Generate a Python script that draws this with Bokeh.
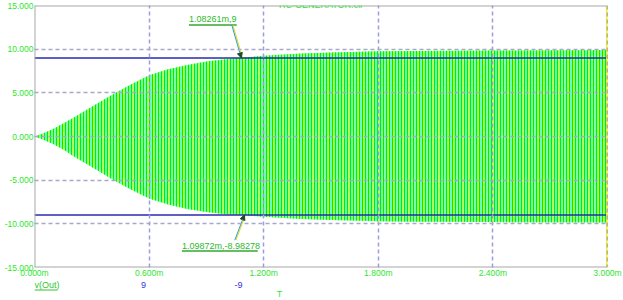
import numpy as np
from bokeh.plotting import figure
from bokeh.layouts import column
from bokeh.models import Span, Label, Arrow, NormalHead, FixedTicker, ColumnDataSource, Range1d
from bokeh.core.properties import value
from bokeh.embed import file_html
from bokeh.resources import INLINE

# ---- data ----
title_text = "RC-GENERATOR.cir"
t_ms = [0, 0.05, 0.1, 0.15, 0.2, 0.3, 0.4, 0.5, 0.6, 0.7, 0.8, 0.9, 1.0, 1.1, 1.2, 1.4, 1.6, 1.8, 2.0, 2.4, 3.0]
v_upper = [0, 0.4, 0.9, 1.5, 2.1, 3.4, 4.7, 5.9, 7.0, 7.7, 8.2, 8.6, 8.85, 9.05, 9.25, 9.5, 9.65, 9.75, 9.8, 9.85, 9.9]
v_lower = [0, -0.4, -0.9, -1.5, -2.2, -3.5, -4.8, -6.0, -7.1, -7.8, -8.3, -8.65, -8.9, -9.0, -9.2, -9.45, -9.6, -9.7, -9.75, -9.8, -9.85]
level_hi = 9
level_lo = -9
marker_t = [1.08261, 1.09872]
marker_v = [9, -8.98278]
x_ticks = [0, 0.6, 1.2, 1.8, 2.4, 3.0]
x_tick_labels = ["0.000m", "0.600m", "1.200m", "1.800m", "2.400m", "3.000m"]
y_ticks = [-15, -10, -5, 0, 5, 10, 15]
legend_items = ["v(Out)", "9", "-9"]
x_axis_name = "T"

FONT = "Liberation Sans"
TICK_COLOR = "#2EE62E"
LEFT, RIGHT = 34, 16

p = figure(width=623, height=280, x_range=Range1d(0, 3), y_range=Range1d(-15, 15),
           output_backend="svg", toolbar_location=None,
           min_border_left=LEFT, min_border_right=RIGHT, min_border_top=5, min_border_bottom=12)
p.background_fill_color = "white"
p.border_fill_color = "white"
p.outline_line_color = None

# axes
p.xaxis.ticker = FixedTicker(ticks=x_ticks)
p.xaxis.major_label_overrides = {t: l for t, l in zip(x_ticks, x_tick_labels)}
p.yaxis.ticker = FixedTicker(ticks=y_ticks)
p.yaxis.major_label_overrides = {t: f"{t:.3f}" for t in y_ticks}
for ax in (p.xaxis, p.yaxis):
    ax.axis_line_color = None
    ax.major_tick_line_color = None
    ax.minor_tick_line_color = None
    ax.major_tick_out = 0
    ax.major_tick_in = 0
    ax.minor_tick_out = 0
    ax.axis_label_standoff = 0
    ax.major_label_text_color = TICK_COLOR
    ax.major_label_text_font = FONT
    ax.major_label_text_font_size = "8.5px"
p.yaxis.major_label_standoff = 1
p.xaxis.major_label_standoff = 0

# grid
p.xgrid.grid_line_color = "#9C9CE0"
p.ygrid.grid_line_color = "#A8A8C8"
p.grid.grid_line_dash = "4 3"
p.grid.grid_line_width = 1.5
p.grid.level = "overlay"

# signal (dense oscillation drawn as its envelope with vertical stripes)
src = ColumnDataSource(dict(t=t_ms, up=v_upper, lo=v_lower))
p.varea(x="t", y1="lo", y2="up", source=src, fill_color="#66FFCC",
        hatch_pattern="vertical_line", hatch_color="#D2FF26", hatch_scale=5, hatch_weight=1.8)
p.varea(x="t", y1="lo", y2="up", source=src, fill_alpha=0,
        hatch_pattern="vertical_line", hatch_color="#00EE00", hatch_scale=3, hatch_weight=1.0)

# level lines 9 and -9
for lv in (level_hi, level_lo):
    p.add_layout(Span(location=lv, dimension="width", line_color="#2828B0", line_width=1.5))

# frame borders
p.add_layout(Span(location=0, dimension="height", line_color="#A8A8A8", line_width=2))
p.add_layout(Span(location=15, dimension="width", line_color="#A8A8A8", line_width=2))
p.add_layout(Span(location=-15, dimension="width", line_color="#A8A8A8", line_width=2))
p.add_layout(Span(location=3.0, dimension="height", line_color="#F0F020", line_width=3))
p.add_layout(Span(location=3.0, dimension="height", line_color="#7070D8", line_width=1.5, line_dash="4 3"))

# marker annotations
txt_dx = [-0.274, -0.327]
txt_w = [0.25, 0.397]
txt_dy = [4.46, -3.57]
line_dy = [3.78, -4.14]
arrow_dx = [-0.05, -0.05]
arrow_dy = [3.78, -2.88]
for i in range(2):
    tx = marker_t[i] + txt_dx[i]
    label = f"{marker_t[i]:g}m,{marker_v[i]:g}"
    p.add_layout(Label(x=tx, y=marker_v[i] + txt_dy[i], text=label, text_font=FONT,
                       text_font_size="9px", text_color="#2DB82D", text_baseline="middle"))
    p.segment(x0=[tx], y0=[marker_v[i] + line_dy[i]], x1=[tx + txt_w[i]], y1=[marker_v[i] + line_dy[i]],
              line_color="#30A830", line_width=1.5)
    xs, ys = marker_t[i] + arrow_dx[i], marker_v[i] + arrow_dy[i]
    p.segment(x0=[xs + 0.006], y0=[ys], x1=[marker_t[i] + 0.006], y1=[marker_v[i]],
              line_color="#E0E000", line_width=1)
    p.add_layout(Arrow(end=NormalHead(size=5, fill_color="#1E4A1E", line_color="#1E4A1E"),
                       x_start=xs, y_start=ys, x_end=marker_t[i], y_end=marker_v[i],
                       line_color="#3399DD", line_width=1))

# title (partly cut off at the top)
p.add_layout(Label(x=1.5, y=15.11, text=title_text, text_font=FONT, text_font_size="9px",
                   text_color=TICK_COLOR, text_align="center", text_baseline="alphabetic"))

# ---- bottom legend strip, sharing the time axis ----
q = figure(width=623, height=20, x_range=p.x_range, y_range=Range1d(20, 0),
           output_backend="svg", toolbar_location=None,
           min_border_left=LEFT, min_border_right=RIGHT, min_border_top=0, min_border_bottom=0)
q.axis.visible = False
q.grid.visible = False
q.outline_line_color = None
q.background_fill_color = "white"
q.border_fill_color = "white"

leg_x = [0.0, 0.571, 1.068]
leg_row = [4.5, 4.5, 4.5]
leg_col = ["#2EC82E", "#3333DD", "#3333DD"]
leg_align = ["left", "center", "center"]
q.text(x=leg_x, y=leg_row, text=legend_items, text_color=leg_col, text_align=leg_align,
       text_baseline="middle", text_font=value(FONT), text_font_size="9px")
q.segment(x0=[leg_x[0]], y0=[9.5], x1=[leg_x[0] + 0.12], y1=[9.5], line_color="#2EC82E", line_width=1)
q.text(x=[1.283], y=[13.5], text=[x_axis_name], text_color=TICK_COLOR, text_align="center",
       text_baseline="middle", text_font=value(FONT), text_font_size="9px")

open("out.html", "w").write(file_html(column(p, q), INLINE))
